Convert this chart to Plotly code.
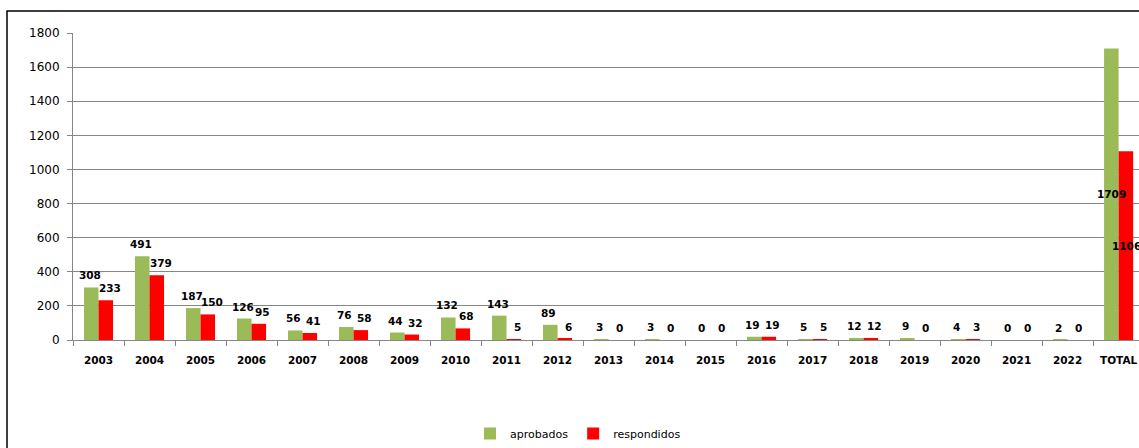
import plotly.graph_objects as go

categories = ["2003", "2004", "2005", "2006", "2007", "2008", "2009", "2010", "2011", "2012",
              "2013", "2014", "2015", "2016", "2017", "2018", "2019", "2020", "2021", "2022", "TOTAL"]
aprobados = [308, 491, 187, 126, 56, 76, 44, 132, 143, 89, 3, 3, 0, 19, 5, 12, 9, 4, 0, 2, 1709]
respondidos = [233, 379, 150, 95, 41, 58, 32, 68, 5, 6, 0, 0, 0, 19, 5, 12, 0, 3, 0, 0, 1106]

GREEN = "#9BBB59"
RED = "#FF0000"
FONT = "DejaVu Sans"
LBL = dict(family=FONT, size=10.5, color="black", weight="bold")

fig = go.Figure()
for name, vals, col in [("aprobados", aprobados, GREEN), ("respondidos", respondidos, RED)]:
    fig.add_trace(go.Bar(x=categories, y=vals, name=name,
                         marker=dict(color=col, line=dict(width=0))))

# data labels placed from the data values (x given as category index)
annotations = []
for vals, side in [(aprobados, -1), (respondidos, 1)]:
    for i, (c, v) in enumerate(zip(categories, vals)):
        if c == "TOTAL":
            annotations.append(dict(x=i, y=v / 2, xref="x", yref="y", text=str(v),
                                    showarrow=False, font=LBL, xanchor="center",
                                    yanchor="middle", xshift=side * 7.5))
        else:
            annotations.append(dict(x=i, y=v, xref="x", yref="y", text=str(v),
                                    showarrow=False, font=LBL, xanchor="center",
                                    yanchor="bottom", yshift=4,
                                    xshift=(-9 if side < 0 else 11)))

L, T = 73, 33
W, H = 1139, 448
axis_bottom = 341
B = H - axis_bottom
pw = W - L
ph = H - T - B

fig.update_layout(
    width=W, height=H,
    margin=dict(l=L, r=0, t=T, b=B, pad=0),
    paper_bgcolor="white", plot_bgcolor="white",
    barmode="group", bargap=0.43, bargroupgap=0,
    font=dict(family=FONT, size=12, color="black"),
    showlegend=True,
    legend=dict(orientation="h", x=(578 - L) / pw, xanchor="center",
                y=-(435 - axis_bottom) / ph, yanchor="middle",
                font=dict(family=FONT, size=11, color="black"),
                itemwidth=30, traceorder="normal"),
    xaxis=dict(type="category", range=[-0.5, 20.4], showgrid=False,
               showline=True, linecolor="#868686", linewidth=1,
               ticks="outside", ticklen=5, tickcolor="#868686", tickson="boundaries",
               ticklabelstandoff=10,
               tickfont=dict(family=FONT, size=10.5, color="black", weight="bold")),
    yaxis=dict(range=[0, 1800], dtick=200, showgrid=True, gridcolor="#868686", gridwidth=1,
               showline=True, linecolor="#868686", linewidth=1,
               ticks="outside", ticklen=5, tickcolor="#868686", ticklabelstandoff=5,
               tickfont=dict(family=FONT, size=12, color="black"), zeroline=False),
    annotations=annotations,
    shapes=[dict(type="rect", xref="paper", yref="paper",
                 x0=(7 - L) / pw, x1=1.05, y0=-0.5, y1=(axis_bottom - 11) / ph,
                 line=dict(color="black", width=1.5), fillcolor="rgba(0,0,0,0)")],
)

fig.write_html("out.html", config={"displayModeBar": False},
               post_script="document.body.style.margin='0px';document.body.style.overflow='hidden';")
